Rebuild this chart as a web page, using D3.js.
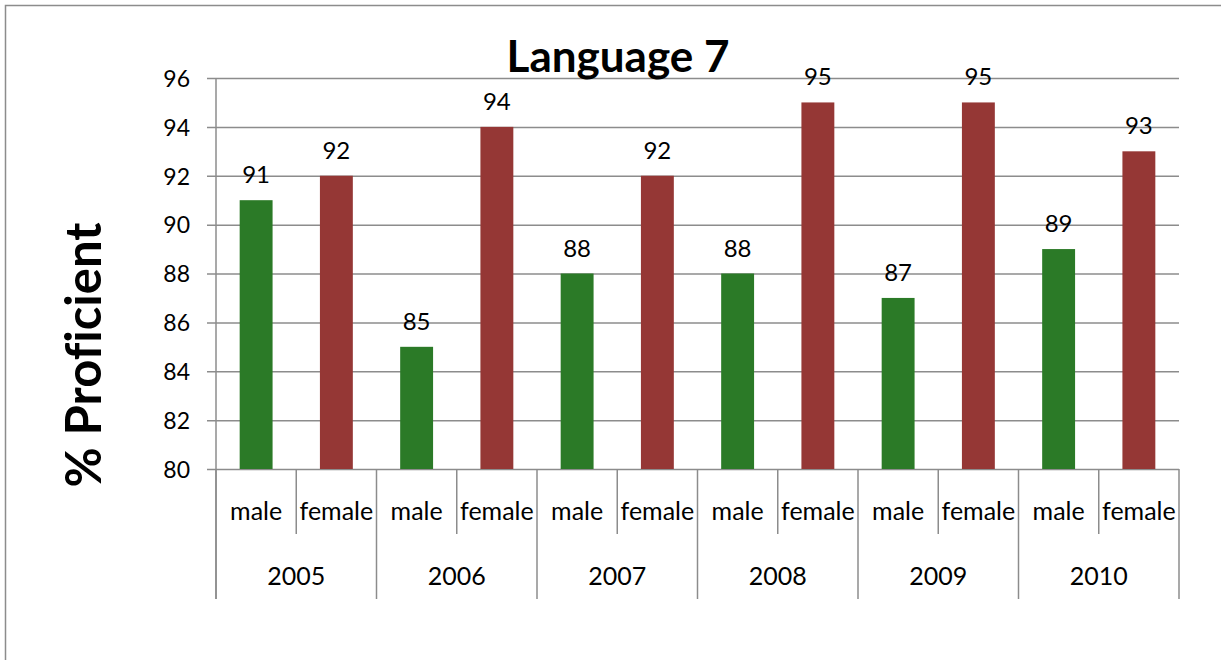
<!DOCTYPE html>
<html>
<head>
<meta charset="utf-8">
<script src="https://cdn.jsdelivr.net/npm/d3@7"></script>
<style>
  html, body { margin: 0; padding: 0; background: #fff; }
  svg { display: block; }
  text { font-family: Lato, "Open Sans", sans-serif; fill: #000; font-variant-ligatures: none; }
</style>
</head>
<body>
<svg id="chart" width="1221" height="660"></svg>
<script>
// Language 7 proficiency by year and sex
const years = ["2005", "2006", "2007", "2008", "2009", "2010"];
const sexes = ["male", "female"];
const maleValues = [91, 85, 88, 88, 87, 89];
const femaleValues = [92, 94, 92, 95, 95, 93];
const yTicks = [80, 82, 84, 86, 88, 90, 92, 94, 96];
const title = "Language 7";
const yTitle = "% Proficient";

const colors = { male: "#2b7a27", female: "#953735" };
const gridColor = "#8c8c8c";

const rows = [];
years.forEach((yr, i) => {
  rows.push({ key: yr + "|male", year: yr, sex: "male", value: maleValues[i] });
  rows.push({ key: yr + "|female", year: yr, sex: "female", value: femaleValues[i] });
});

const svg = d3.select("#chart");
const plot = { left: 216, right: 1179, top: 78, bottom: 469 };

// outer chart frame
svg.append("rect")
  .attr("x", 5.5).attr("y", 5.5)
  .attr("width", 1240).attr("height", 680)
  .attr("fill", "none").attr("stroke", gridColor).attr("stroke-width", 1.5);

const x = d3.scaleBand()
  .domain(rows.map(d => d.key))
  .range([plot.left, plot.right])
  .paddingInner(0.59).paddingOuter(0.295);

const xGroup = d3.scaleBand()
  .domain(years)
  .range([plot.left, plot.right]);

const y = d3.scaleLinear()
  .domain([80, 96])
  .range([plot.bottom, plot.top]);

// horizontal gridlines with left ticks
const yAxis = d3.axisLeft(y)
  .tickValues(yTicks)
  .tickSize(-(plot.right - plot.left))
  .tickPadding(0)
  .tickFormat(d3.format("d"));

const yg = svg.append("g")
  .attr("transform", `translate(${plot.left},0)`)
  .call(yAxis);
yg.select(".domain").remove();
yg.selectAll(".tick line")
  .attr("x1", -9)
  .attr("stroke", gridColor).attr("stroke-width", 1.5);
yg.selectAll(".tick text")
  .attr("x", -26).attr("dy", "0.36em")
  .attr("font-size", 23).attr("text-anchor", "end")
  .style("font-family", "Lato, sans-serif");

// vertical axis line, extended down through the category rows
svg.append("line")
  .attr("x1", plot.left).attr("x2", plot.left)
  .attr("y1", plot.top).attr("y2", 599)
  .attr("stroke", gridColor).attr("stroke-width", 1.5);

// bars
svg.append("g").selectAll("rect")
  .data(rows)
  .join("rect")
  .attr("x", d => x(d.key))
  .attr("width", x.bandwidth())
  .attr("y", d => y(d.value))
  .attr("height", d => y(80) - y(d.value))
  .attr("fill", d => colors[d.sex]);

// value labels
svg.append("g").selectAll("text")
  .data(rows)
  .join("text")
  .attr("x", d => x(d.key) + x.bandwidth() / 2)
  .attr("y", d => y(d.value) - 17)
  .attr("text-anchor", "middle")
  .attr("font-size", 24)
  .text(d => d.value);

// category axis separators
const step = x.step();
const subSep = rows.map((d, i) => i).filter(i => i % 2 === 1)
  .map(i => plot.left + step * i);
const groupSep = d3.range(years.length + 1).map(i => plot.left + xGroup.step() * i);

svg.append("g").selectAll("line")
  .data(subSep)
  .join("line")
  .attr("x1", d => d).attr("x2", d => d)
  .attr("y1", plot.bottom).attr("y2", 534)
  .attr("stroke", gridColor).attr("stroke-width", 1.5);

svg.append("g").selectAll("line")
  .data(groupSep)
  .join("line")
  .attr("x1", d => d).attr("x2", d => d)
  .attr("y1", plot.bottom).attr("y2", 599)
  .attr("stroke", gridColor).attr("stroke-width", 1.5);

// sex labels
svg.append("g").selectAll("text")
  .data(rows)
  .join("text")
  .attr("x", d => x(d.key) + x.bandwidth() / 2)
  .attr("y", 520)
  .attr("text-anchor", "middle")
  .attr("font-size", 25)
  .text(d => d.sex);

// year labels
svg.append("g").selectAll("text")
  .data(years)
  .join("text")
  .attr("x", d => xGroup(d) + xGroup.bandwidth() / 2)
  .attr("y", 585)
  .attr("text-anchor", "middle")
  .attr("font-size", 25)
  .text(d => d);

// chart title
svg.append("text")
  .attr("x", 618).attr("y", 72)
  .attr("text-anchor", "middle")
  .attr("font-size", 44).attr("font-weight", "bold")
  .text(title);

// y-axis title
svg.append("text")
  .attr("transform", "translate(101,355) rotate(-90)")
  .attr("text-anchor", "middle")
  .attr("font-size", 49).attr("font-weight", "bold")
  .text(yTitle);
</script>
</body>
</html>
